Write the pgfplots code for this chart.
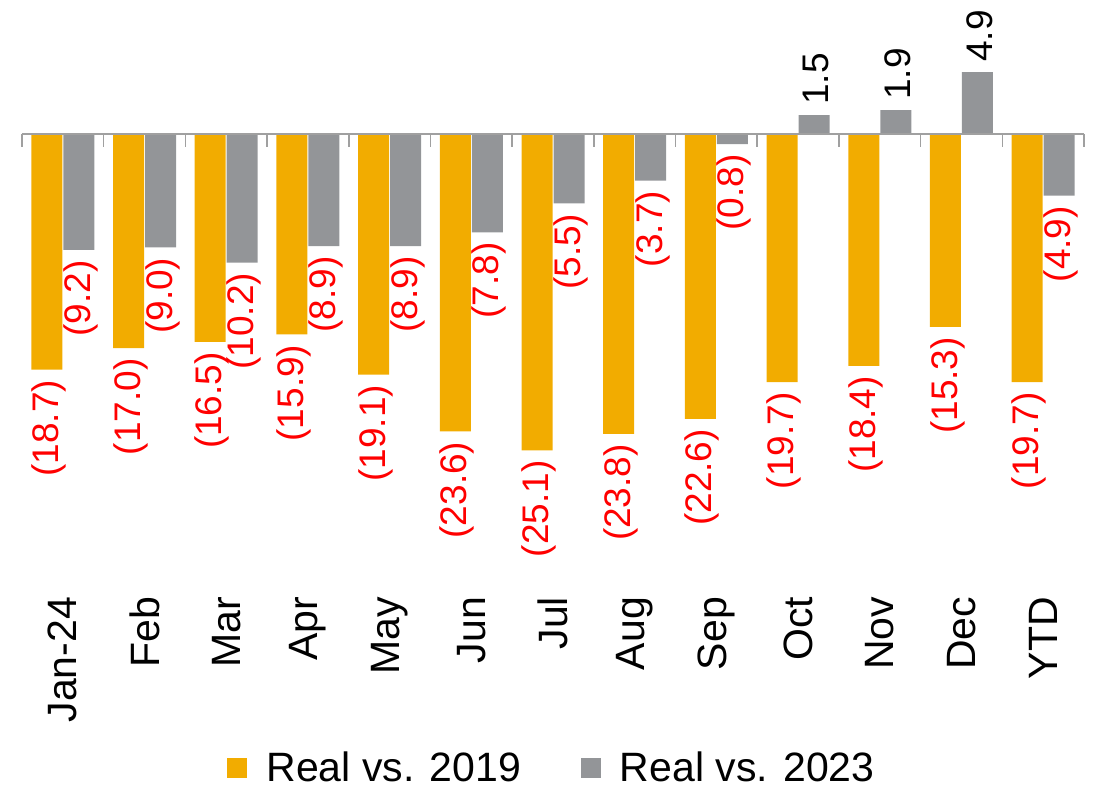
\documentclass[border=0pt]{standalone}
\usepackage{pgfplots}
\usepackage{pgfplotstable}
\usepackage{graphicx}
\usepackage{fontspec}
\setmainfont{Liberation Sans}
\pgfplotsset{compat=1.18}
\definecolor{orng}{RGB}{242,172,0}
\definecolor{gry}{RGB}{147,149,152}
\definecolor{axgray}{RGB}{160,160,160}

\pgfplotstableread{
x a b
0 -18.7 -9.2
1 -17.0 -9.0
2 -16.5 -10.2
3 -15.9 -8.9
4 -19.1 -8.9
5 -23.6 -7.8
6 -25.1 -5.5
7 -23.8 -3.7
8 -22.6 -0.8
9 -19.7 1.5
10 -18.4 1.9
11 -15.3 4.9
12 -19.7 -4.9
}\data

\newcommand{\barlabel}{%
  \pgfmathfloatifflags{\pgfplotspointmeta}{2}{%
    \pgfmathfloattofixed{\pgfplotspointmeta}%
    \pgfmathparse{abs(\pgfmathresult)}%
    \textcolor{red}{(\pgfmathprintnumber[fixed,fixed zerofill,precision=1]{\pgfmathresult})}%
  }{%
    \pgfmathprintnumber[fixed,fixed zerofill,precision=1]{\pgfplotspointmeta}%
  }}

\begin{document}
\begin{tikzpicture}
\begin{axis}[
  name=ax,
  scale only axis,
  width=531pt, height=295pt,
  xmin=-0.5, xmax=12.5,
  ymin=-36.19, ymax=10.635,
  clip=false,
  ybar=0.5pt,
  bar width=15.5pt,
  hide y axis,
  axis x line*=bottom,
  x axis line style={draw=none},
  major tick length=0pt,
  xtick={0,...,12},
  xticklabels={Jan-24,Feb,Mar,Apr,May,Jun,Jul,Aug,Sep,Oct,Nov,Dec,YTD},
  xticklabel style={rotate=90, anchor=east, font=\fontsize{20.5}{24}\selectfont},
  /pgf/number format/assume math mode=true,
  nodes near coords={\rotatebox{90}{\barlabel}},
  nodes near coords align={vertical},
  every node near coord/.append style={font=\fontsize{18.5}{21}\selectfont, inner sep=5pt, xshift=1pt},
  legend columns=2,
  legend style={draw=none, fill=none, at={(0.5,-0.3017)}, anchor=center,
    font=\fontsize{20.5}{24}\selectfont, inner sep=0pt,
    /tikz/every odd column/.append style={column sep=7.5pt},
    /tikz/every even column/.append style={column sep=28pt}},
  legend image code/.code={\fill[#1,draw=none] (0pt,-5pt) rectangle (10pt,5pt);},
]
\addplot[fill=orng, draw=none] table[x=x, y=a] {\data};
\addplot[fill=gry, draw=none] table[x=x, y=b] {\data};
\legend{Real vs. 2019, Real vs. 2023}
\draw[axgray, line width=0.75pt] (axis cs:-0.5,0) -- (axis cs:12.5,0);
\pgfplotsinvokeforeach{-0.5,0.5,...,12.5}{
  \draw[axgray, line width=0.75pt] (axis cs:#1,0) -- ++(0pt,-6.5pt);
}
\end{axis}
\path (ax.north west) ++(-11pt,0pt) rectangle ++(549.5pt,-393pt);
\end{tikzpicture}
\end{document}
